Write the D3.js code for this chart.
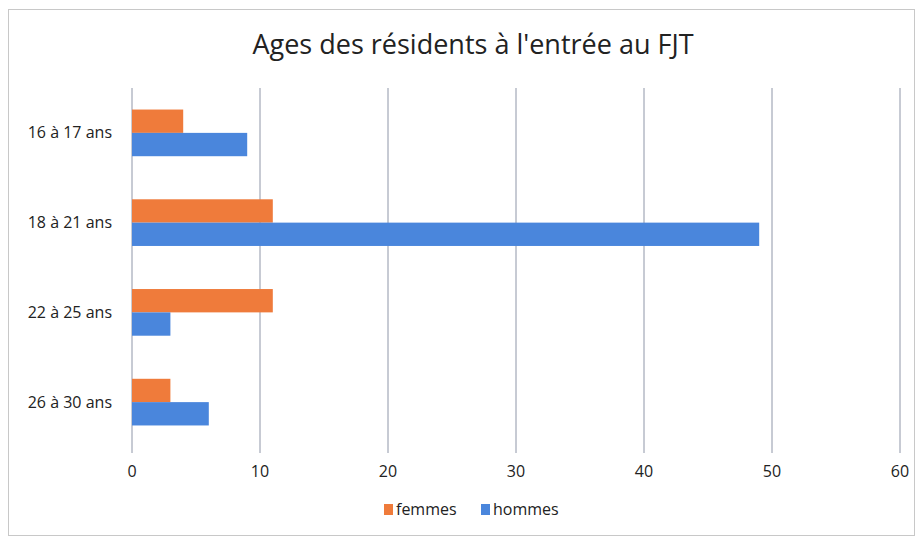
<!DOCTYPE html>
<html>
<head>
<meta charset="utf-8">
<script src="https://cdn.jsdelivr.net/npm/d3@7"></script>
<style>
  body { margin: 0; background: #fff; }
  text { font-family: "Liberation Sans Narrow", "Open Sans", sans-serif; fill: #222; }
</style>
</head>
<body>
<svg width="922" height="542"></svg>
<script>
var categories = ["16 à 17 ans", "18 à 21 ans", "22 à 25 ans", "26 à 30 ans"];
var series = ["femmes", "hommes"];
var femmes = [4, 11, 11, 3];
var hommes = [9, 49, 3, 6];
var xTicks = [0, 10, 20, 30, 40, 50, 60];
var colors = ["#ef7b3b", "#4a86dc"];

var svg = d3.select("svg");
var margin = {left: 132, right: 22, top: 88, bottom: 95};
var width = 922 - margin.left - margin.right,
    height = 542 - margin.top - margin.bottom;

// outer frame
svg.append("rect")
  .attr("x", 8.5).attr("y", 9.5).attr("width", 906).attr("height", 526)
  .attr("fill", "none").attr("stroke", "#c8c8c8");

svg.append("text")
  .attr("x", 473).attr("y", 54)
  .attr("text-anchor", "middle")
  .style("font-size", "27px")
  .text("Ages des résidents à l'entrée au FJT");

var g = svg.append("g").attr("transform", "translate(" + margin.left + "," + margin.top + ")");

var x = d3.scaleLinear().domain([0, 60]).range([0, width]);
var y = d3.scaleBand().domain(categories).range([0, height]).paddingInner(0.48).paddingOuter(0.24);
var y1 = d3.scaleBand().domain(series).range([0, y.bandwidth()]);

// gridlines
g.selectAll(".grid").data(xTicks).enter().append("line")
  .attr("x1", function(d) { return x(d); })
  .attr("x2", function(d) { return x(d); })
  .attr("y1", 0).attr("y2", height + 6)
  .attr("stroke", "#8f96a8").attr("stroke-width", 1);

var rows = g.selectAll(".row").data(categories).enter().append("g")
  .attr("transform", function(d) { return "translate(0," + y(d) + ")"; });

rows.selectAll("rect").data(function(d, i) {
    return [{s: "femmes", v: femmes[i]}, {s: "hommes", v: hommes[i]}];
  }).enter().append("rect")
  .attr("x", 0)
  .attr("y", function(d) { return y1(d.s); })
  .attr("width", function(d) { return x(d.v); })
  .attr("height", y1.bandwidth())
  .attr("fill", function(d) { return colors[series.indexOf(d.s)]; });

// category labels
g.selectAll(".cat").data(categories).enter().append("text")
  .attr("x", -20)
  .attr("y", function(d) { return y(d) + y.bandwidth() / 2; })
  .attr("dy", "0.35em")
  .attr("text-anchor", "end")
  .style("font-size", "16px")
  .text(function(d) { return d; });

// x tick labels
g.selectAll(".tick").data(xTicks).enter().append("text")
  .attr("x", function(d) { return x(d); })
  .attr("y", height + 30)
  .attr("text-anchor", "middle")
  .style("font-size", "16px")
  .text(function(d) { return d; });

// legend
var legend = svg.append("g").attr("transform", "translate(384,515)");
var items = legend.selectAll("g").data(series).enter().append("g")
  .attr("transform", function(d, i) { return "translate(" + (i * 97) + ",0)"; });
items.append("rect").attr("x", 0).attr("y", -11).attr("width", 9).attr("height", 11)
  .attr("fill", function(d, i) { return colors[i]; });
items.append("text").attr("x", 12).attr("y", 0)
  .style("font-size", "16px")
  .text(function(d) { return d; });
</script>
</body>
</html>
